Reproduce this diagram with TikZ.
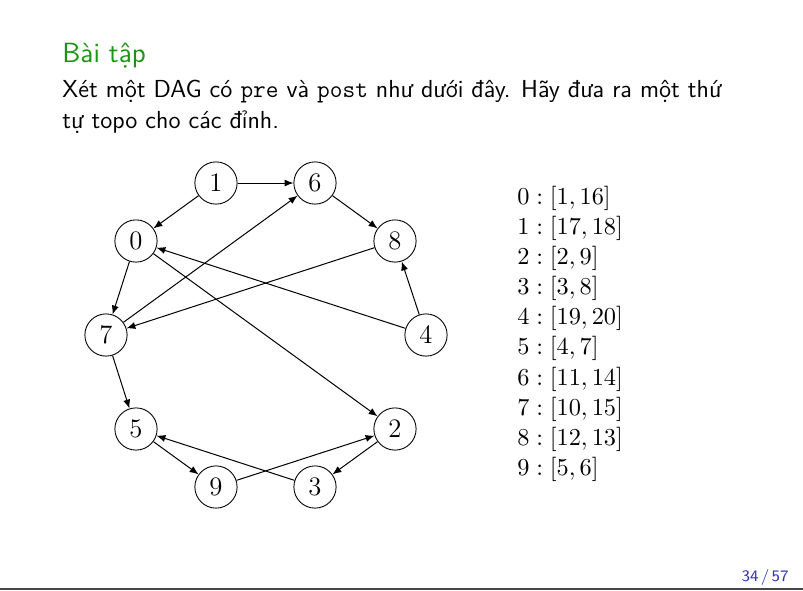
\documentclass[tikz,border=0pt]{standalone}
\usepackage{fontspec}
\usetikzlibrary{arrows.meta}
\definecolor{titlegreen}{RGB}{25,150,15}
\definecolor{pagenum}{RGB}{51,51,179}
\definecolor{footgrey}{RGB}{70,70,70}
\begin{document}
\begin{tikzpicture}[x=0.45pt,y=-0.45pt,
  vtx/.style={draw,circle,minimum size=19pt,inner sep=0pt,font=\fontsize{12}{14}\selectfont},
  edge/.style={-{Latex[length=4pt,width=3.2pt]},line width=0.45pt},
  txt/.style={anchor=base west,inner sep=0pt,font=\sffamily\fontsize{11.08}{13}\selectfont},
  lst/.style={anchor=base west,inner sep=0pt,font=\fontsize{11}{13}\selectfont}]
\useasboundingbox (0,0) rectangle (803,590);
% title and text
\node[txt,text=titlegreen,font=\sffamily\fontsize{12.5}{15}\selectfont] (title) at (62,62) {Bài tập};
\node[txt] (body1) at (62,97) {Xét một DAG có \texttt{pre} và \texttt{post} như dưới đây. Hãy đưa ra một thứ};
\node[txt] (body2) at (62,128) {tự topo cho các đỉnh.};
% graph
\node[vtx] (n1) at (216,183) {$1$};
\node[vtx] (n6) at (315,183) {$6$};
\node[vtx] (n0) at (136,241) {$0$};
\node[vtx] (n8) at (395,241) {$8$};
\node[vtx] (n7) at (106,335) {$7$};
\node[vtx] (n4) at (426,335) {$4$};
\node[vtx] (n5) at (136,429) {$5$};
\node[vtx] (n2) at (395,429) {$2$};
\node[vtx] (n9) at (216,487) {$9$};
\node[vtx] (n3) at (315,487) {$3$};
\draw[edge] (n1) -- (n6);
\draw[edge] (n1) -- (n0);
\draw[edge] (n6) -- (n8);
\draw[edge] (n0) -- (n7);
\draw[edge] (n0) -- (n2);
\draw[edge] (n7) -- (n6);
\draw[edge] (n8) -- (n7);
\draw[edge] (n4) -- (n0);
\draw[edge] (n4) -- (n8);
\draw[edge] (n7) -- (n5);
\draw[edge] (n5) -- (n9);
\draw[edge] (n9) -- (n2);
\draw[edge] (n3) -- (n5);
\draw[edge] (n2) -- (n3);
% list
\node[lst] (l0) at (517,204) {$0:[1,16]$};
\node[lst] (l1) at (517,234) {$1:[17,18]$};
\node[lst] (l2) at (517,264) {$2:[2,9]$};
\node[lst] (l3) at (517,294) {$3:[3,8]$};
\node[lst] (l4) at (517,324) {$4:[19,20]$};
\node[lst] (l5) at (517,354) {$5:[4,7]$};
\node[lst] (l6) at (517,385) {$6:[11,14]$};
\node[lst] (l7) at (517,415) {$7:[10,15]$};
\node[lst] (l8) at (517,445) {$8:[12,13]$};
\node[lst] (l9) at (517,475) {$9:[5,6]$};
% footer
\node[anchor=base east,inner sep=0pt,text=pagenum,font=\sffamily\fontsize{7.2}{8}\selectfont] (page) at (789,581) {34\kern1pt/\kern1pt57};
\fill[footgrey] (0,587.5) rectangle (803,590);
\end{tikzpicture}
\end{document}
